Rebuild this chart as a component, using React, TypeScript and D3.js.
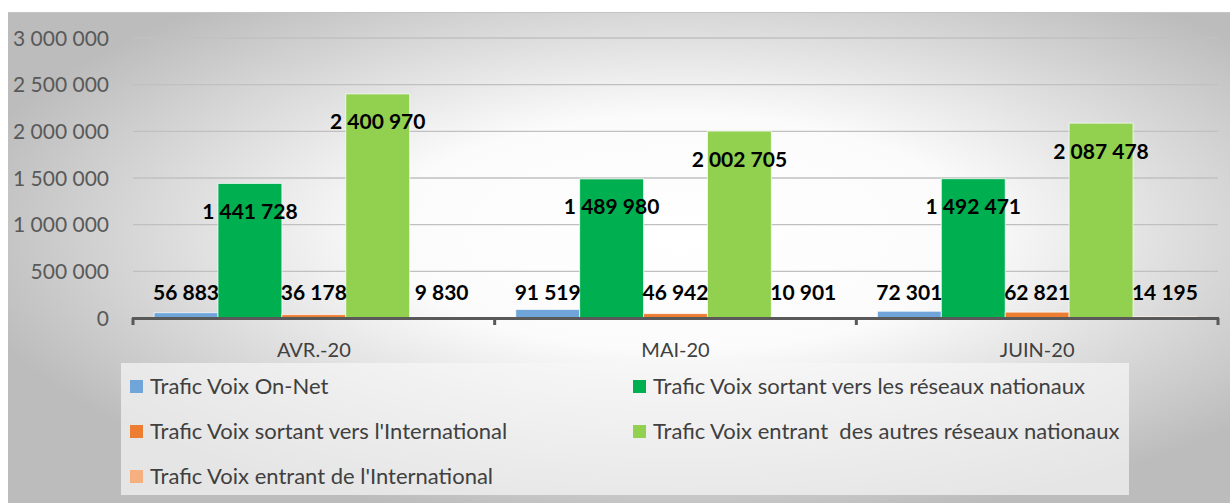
import React, { useEffect, useRef } from 'react';
import * as d3 from 'd3';

const months = ['AVR.-20', 'MAI-20', 'JUIN-20'];
const seriesNames = [
  'Trafic Voix On-Net',
  'Trafic Voix sortant vers les réseaux nationaux',
  "Trafic Voix sortant vers l'International",
  'Trafic Voix entrant  des autres réseaux nationaux',
  "Trafic Voix entrant de l'International",
];
const onNet = [56883, 91519, 72301];
const sortantNational = [1441728, 1489980, 1492471];
const sortantInternational = [36178, 46942, 62821];
const entrantNational = [2400970, 2002705, 2087478];
const entrantInternational = [9830, 10901, 14195];
const seriesValues = [onNet, sortantNational, sortantInternational, entrantNational, entrantInternational];
const colors = ['#6fa5d9', '#00b050', '#ed7d31', '#92d050', '#f6b07f'];
const yTicks = [0, 500000, 1000000, 1500000, 2000000, 2500000, 3000000];

const fmt = (v: number) => d3.format(',')(v).replace(/,/g, ' ');
const FONT = 'Lato, "Open Sans", sans-serif';

const App = () => {
  const ref = useRef<SVGSVGElement>(null);

  useEffect(() => {
    const svg = d3.select(ref.current);
    svg.selectAll('*').remove();

    const width = 1230;
    const height = 503;
    const left = 133, right = 1218, top = 38, bottom = 318;

    const defs = svg.append('defs');
    const grad = defs.append('radialGradient')
      .attr('id', 'bg')
      .attr('cx', '0.55').attr('cy', '0.45').attr('r', '0.6');
    grad.append('stop').attr('offset', '0').attr('stop-color', '#ffffff');
    grad.append('stop').attr('offset', '0.4').attr('stop-color', '#fbfbfb');
    grad.append('stop').attr('offset', '1').attr('stop-color', '#bcbcbc');

    svg.append('rect')
      .attr('x', 8).attr('y', 12)
      .attr('width', width - 8).attr('height', height - 12)
      .attr('fill', 'url(#bg)');
    svg.append('line')
      .attr('x1', 8).attr('x2', width).attr('y1', 12.5).attr('y2', 12.5)
      .attr('stroke', '#c4c4c4').attr('stroke-width', 1);

    const y = d3.scaleLinear().domain([0, 3000000]).range([bottom, top]);
    const x0 = d3.scaleBand().domain(months).range([left, right]).paddingInner(0).paddingOuter(0);
    const x1 = d3.scaleBand().domain(seriesNames).range([0, x0.bandwidth()]).paddingOuter(0.33).paddingInner(0);

    // grid
    svg.append('g')
      .selectAll('line')
      .data(yTicks.filter(t => t > 0))
      .enter()
      .append('line')
      .attr('x1', left).attr('x2', right)
      .attr('y1', d => y(d)).attr('y2', d => y(d))
      .attr('stroke', '#c0c0c0').attr('stroke-width', 1.3);

    // y labels
    svg.append('g')
      .selectAll('text')
      .data(yTicks)
      .enter()
      .append('text')
      .attr('x', 109)
      .attr('y', d => y(d))
      .attr('dy', '0.36em')
      .attr('text-anchor', 'end')
      .attr('font-family', FONT)
      .attr('font-size', 21)
      .attr('fill', '#595959')
      .text(d => fmt(d));

    // bars
    const groups = svg.append('g')
      .selectAll('g')
      .data(months)
      .enter()
      .append('g')
      .attr('transform', d => `translate(${x0(d)},0)`);

    groups.selectAll('rect')
      .data((m, i) => seriesNames.map((s, k) => ({ s, k, v: seriesValues[k][i] })))
      .enter()
      .append('rect')
      .attr('x', d => x1(d.s)!)
      .attr('y', d => y(d.v))
      .attr('width', x1.bandwidth())
      .attr('height', d => bottom - y(d.v))
      .attr('fill', d => colors[d.k])
      .attr('stroke', '#ffffff')
      .attr('stroke-opacity', 0.7)
      .attr('stroke-width', 1);

    groups.selectAll('text')
      .data((m, i) => seriesNames.map((s, k) => ({ s, k, v: seriesValues[k][i] })))
      .enter()
      .append('text')
      .attr('x', d => x1(d.s)! + x1.bandwidth() / 2)
      .attr('y', d => Math.min(y(d.v) + 28, bottom - 26))
      .attr('dy', '0.36em')
      .attr('text-anchor', 'middle')
      .attr('font-family', FONT)
      .attr('font-weight', 'bold')
      .attr('font-size', 21)
      .attr('fill', '#000')
      .text(d => fmt(d.v));

    // x axis
    const xAxis = svg.append('g');
    xAxis.append('line')
      .attr('x1', left - 1).attr('x2', right + 1)
      .attr('y1', bottom + 0.5).attr('y2', bottom + 0.5)
      .attr('stroke', '#595959').attr('stroke-width', 3);
    const tickXs = months.map(m => x0(m)!).concat([right]);
    xAxis.selectAll('.tick')
      .data(tickXs)
      .enter()
      .append('line')
      .attr('x1', d => d).attr('x2', d => d)
      .attr('y1', bottom).attr('y2', bottom + 7)
      .attr('stroke', '#595959').attr('stroke-width', 3);
    xAxis.selectAll('text')
      .data(months)
      .enter()
      .append('text')
      .attr('x', d => x0(d)! + x0.bandwidth() / 2)
      .attr('y', 350)
      .attr('dy', '0.36em')
      .attr('text-anchor', 'middle')
      .attr('font-family', FONT)
      .attr('font-size', 20)
      .attr('fill', '#404040')
      .text(d => d);

    // legend
    svg.append('rect')
      .attr('x', 121).attr('y', 363)
      .attr('width', 1008).attr('height', 132)
      .attr('fill', '#f6f6f6').attr('fill-opacity', 0.7);
    const legendPos = seriesNames.map((s, k) => ({
      s, k,
      lx: k % 2 === 0 ? 130 : 633,
      ly: [386, 386, 431, 431, 476][k],
    }));
    const items = svg.append('g')
      .selectAll('g')
      .data(legendPos)
      .enter()
      .append('g')
      .attr('transform', d => `translate(${d.lx},${d.ly})`);
    items.append('rect')
      .attr('x', 0).attr('y', -6)
      .attr('width', 13).attr('height', 13)
      .attr('fill', d => colors[d.k]);
    items.append('text')
      .attr('x', 20).attr('y', 0)
      .attr('dy', '0.36em')
      .attr('font-family', FONT)
      .attr('font-size', 22)
      .attr('fill', '#404040')
      .attr('style', 'white-space: pre')
      .text(d => d.s);
  }, []);

  return (
    <svg
      ref={ref}
      width={1230}
      height={503}
      style={{ position: 'absolute', left: 0, top: 0 }}
    />
  );
};

export default App;
